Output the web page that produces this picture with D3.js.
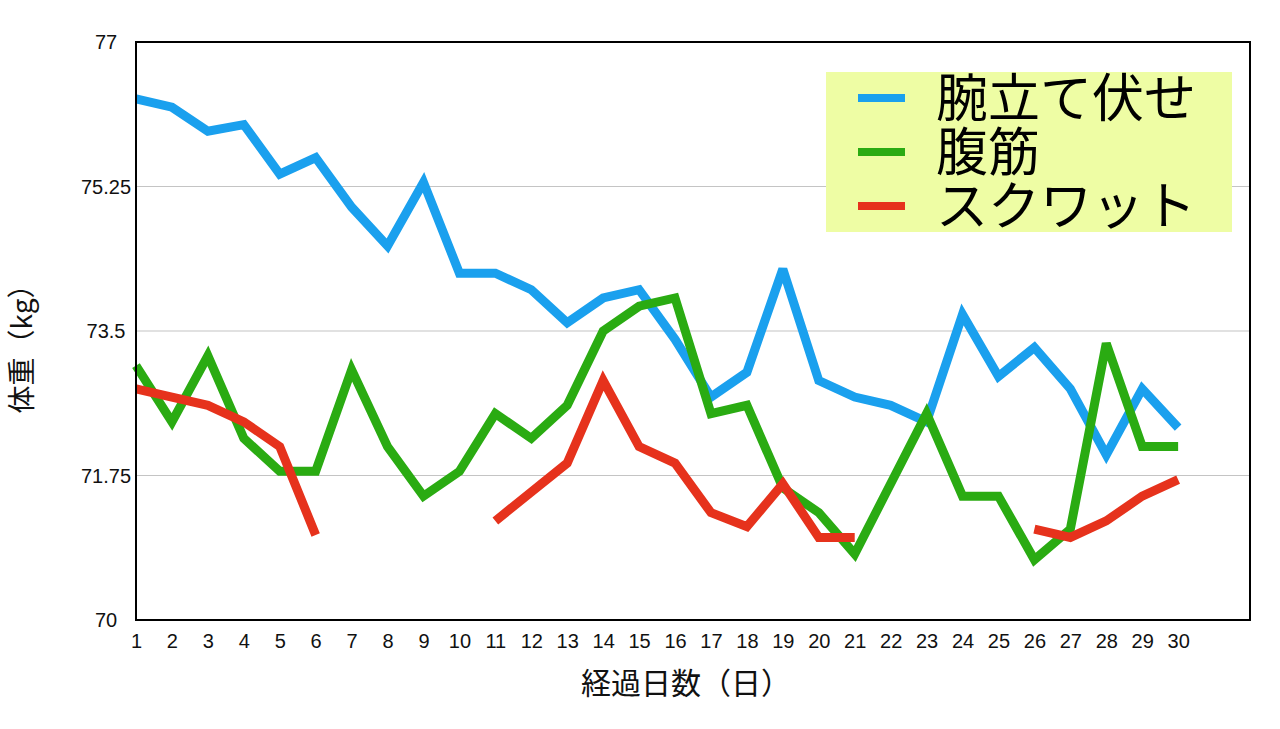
<!DOCTYPE html>
<html><head><meta charset="utf-8">
<script src="https://cdn.jsdelivr.net/npm/d3@7"></script>
<style>body{margin:0;background:#fff}svg{display:block}</style>
</head><body>
<svg id="c" width="1280" height="729"></svg>
<script>
const days = d3.range(1, 31);
const yTicks = [70, 71.75, 73.5, 75.25, 77];
const seriesNames = ["腕立て伏せ", "腹筋", "スクワット"];
const pushups = [76.31,76.21,75.92,76.0,75.4,75.6,75.0,74.53,75.3,74.2,74.2,74.0,73.6,73.9,74.0,73.4,72.7,73.0,74.25,72.9,72.7,72.6,72.4,73.7,72.95,73.3,72.8,72.0,72.8,72.33];
const situps = [73.08,72.4,73.2,72.2,71.8,71.8,73.03,72.1,71.5,71.8,72.5,72.2,72.6,73.5,73.8,73.9,72.5,72.6,71.6,71.3,70.8,71.65,72.5,71.5,71.5,70.73,71.1,73.35,72.1,72.1];
const squats = [72.8,72.7,72.6,72.4,72.1,71.03,null,null,null,null,71.2,71.55,71.9,72.9,72.1,71.9,71.3,71.13,71.65,71.0,71.0,null,null,null,null,71.1,71.0,71.2,71.5,71.7];
const colors = ["#1aa0ee", "#2aab12", "#e6321c"];

const svg = d3.select("#c");
const L = 136, R = 1250, T = 42, B = 620;
const x = d3.scaleLinear().domain([1, 32]).range([L, R]);
const y = d3.scaleLinear().domain([70, 77]).range([B, T]);

// gridlines
svg.append("g").selectAll("line").data(yTicks.filter(v => v > 70 && v < 77)).join("line")
  .attr("x1", L).attr("x2", R).attr("y1", d => y(d)).attr("y2", d => y(d))
  .attr("stroke", "#c4c4c4").attr("stroke-width", 1.2);

// y tick labels
svg.append("g").selectAll("text").data(yTicks).join("text")
  .attr("x", 106).attr("y", d => y(d) + 7).attr("text-anchor", "middle")
  .attr("font-family", "'Liberation Sans Narrow', 'Liberation Sans', sans-serif")
  .attr("font-size", 20).attr("fill", "#111").text(d => d);

// x tick labels
const xAxis = d3.axisBottom(x).tickValues(days).tickSize(0).tickPadding(14).tickFormat(d3.format("d"));
const gx = svg.append("g").attr("transform", `translate(0,${B})`).call(xAxis);
gx.select(".domain").remove();
gx.selectAll("text").attr("font-family", "'Liberation Sans Narrow', 'Liberation Sans', sans-serif")
  .attr("font-size", 20).attr("fill", "#111");

// lines
const data = [pushups, situps, squats];
data.forEach((vals, i) => {
  const line = d3.line().defined(d => d != null)
    .x((d, j) => x(days[j])).y(d => y(d));
  svg.append("path").datum(vals).attr("d", line)
    .attr("fill", "none").attr("stroke", colors[i]).attr("stroke-width", 9)
    .attr("stroke-linejoin", "miter").attr("stroke-miterlimit", 3);
});

// frame
svg.append("rect").attr("x", L).attr("y", T).attr("width", R - L).attr("height", B - T)
  .attr("fill", "none").attr("stroke", "#000").attr("stroke-width", 2);

// legend
const lg = svg.append("g");
lg.append("rect").attr("x", 826).attr("y", 72).attr("width", 406).attr("height", 160).attr("fill", "#eefda4");
seriesNames.forEach((n, i) => {
  const cy = 98 + i * 54;
  lg.append("line").attr("x1", 858).attr("x2", 905).attr("y1", cy).attr("y2", cy)
    .attr("stroke", colors[i]).attr("stroke-width", 8);
  lg.append("text").attr("x", 936).attr("y", cy + 19)
    .attr("font-family", "'Noto Sans CJK JP', sans-serif").attr("font-size", 52).attr("fill", "#000").text(n);
});

// axis titles
svg.append("text").attr("x", 686).attr("y", 694).attr("text-anchor", "middle")
  .attr("font-family", "'Noto Sans CJK JP', sans-serif").attr("font-size", 30).attr("fill", "#111").text("経過日数（日）");
svg.append("text").attr("transform", "translate(32,342) rotate(-90)").attr("text-anchor", "middle")
  .attr("font-family", "'Noto Sans CJK JP', sans-serif").attr("font-size", 28).attr("fill", "#111").text("体重（kg）");
</script>
</body></html>
